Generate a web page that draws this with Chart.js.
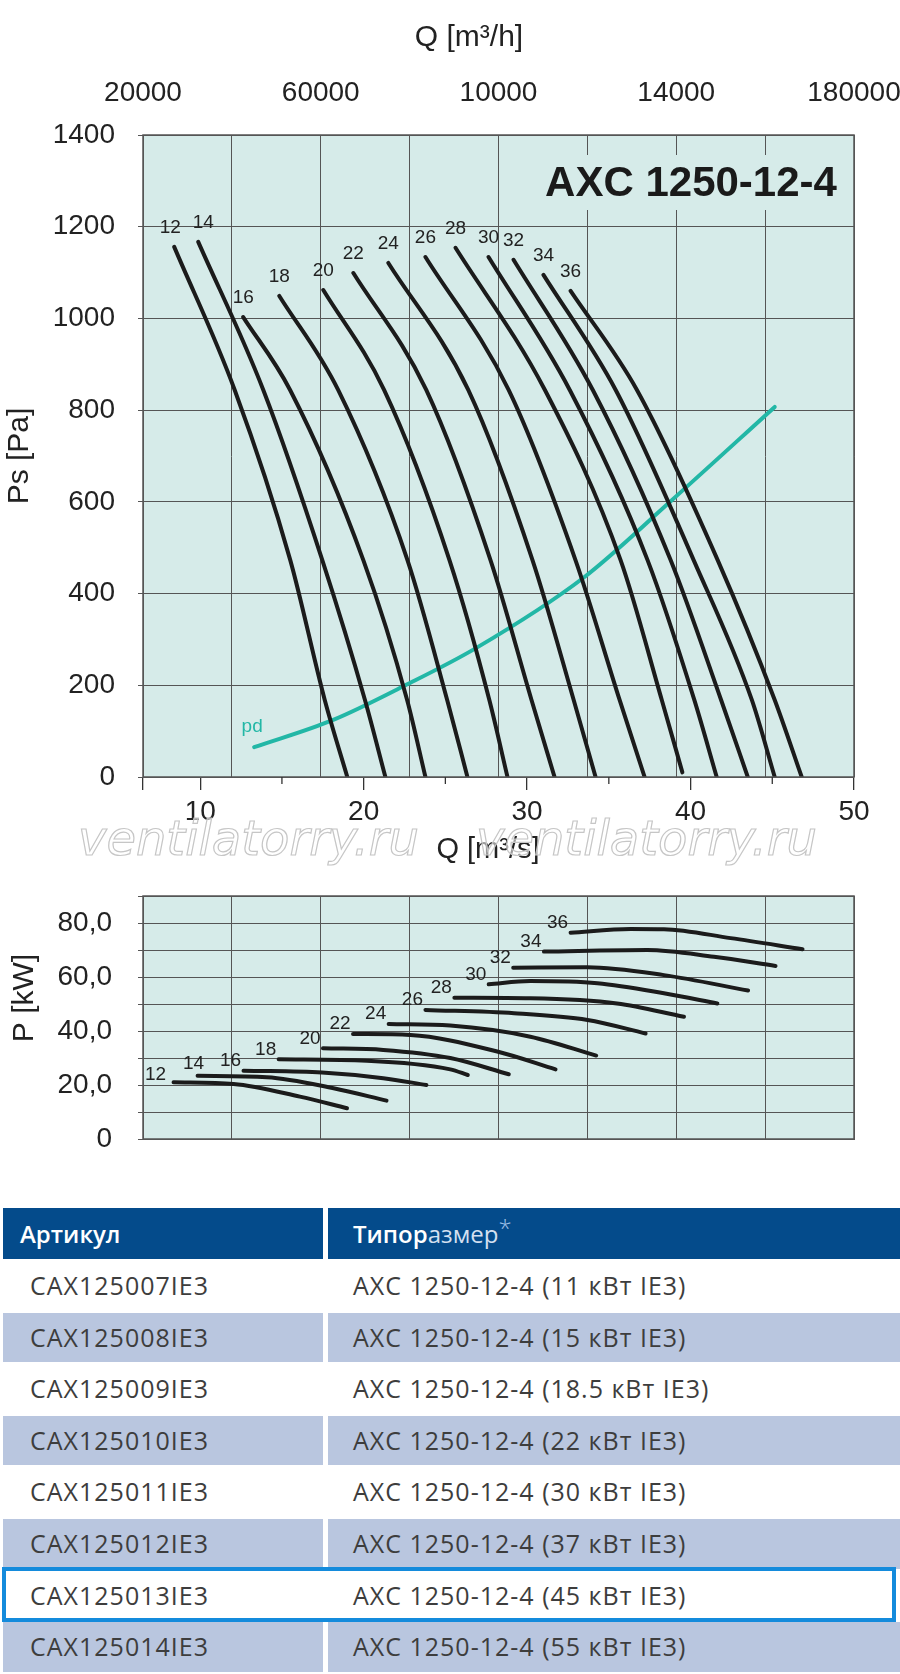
<!DOCTYPE html>
<html lang="ru">
<head>
<meta charset="utf-8">
<title>AXC 1250-12-4</title>
<script src="https://cdn.jsdelivr.net/npm/chart.js@4.4.1/dist/chart.umd.min.js"></script>
<style>
  html, body { margin: 0; padding: 0; background: #fff; }
  body { width: 900px; height: 1674px; position: relative; overflow: hidden; }
  canvas { position: absolute; left: 0; }
  #psChart { top: 0; width: 900px; height: 870px; }
  #pwChart { top: 870px; width: 900px; height: 300px; }
  .tbl { position: absolute; left: 3px; top: 1208px; width: 897px; display: grid;
         grid-template-columns: 320px 1fr; column-gap: 5px; row-gap: 2px;
         font-family: "Open Sans", sans-serif; font-size: 25px; color: #3d3d3d; }
  .tbl div { height: 49.6px; line-height: 49.6px; padding-left: 27px; white-space: nowrap; letter-spacing: 1px; }
  .tbl div.c2 { padding-left: 25px; }
  .tbl div.hd { background: #044b8b; color: #fff; font-weight: 600; font-size: 24px; letter-spacing: 0;
                height: 51px; line-height: 51px; padding-left: 17px; }
  .tbl div.hd.c2 { padding-left: 25px; }
  .tbl div.alt { background: #b9c6df; }
  .hd .thin { font-weight: 400; color: #d4e0f1; }
  .hd .star { font-weight: 300; color: #9dbfe6; vertical-align: top; line-height: 40px; }
  .pick { position: absolute; left: 2px; top: 1567px; width: 894px; height: 55px;
          border: 4px solid #148bdc; box-sizing: border-box; }
</style>
</head>
<body>
<canvas id="psChart" width="900" height="870"></canvas>
<canvas id="pwChart" width="900" height="300"></canvas>
<div class="tbl" id="tbl"></div>
<div class="pick"></div>
<script>
// fan curves, Q in m3/s
const speeds = ['12', '14', '16', '18', '20', '22', '24', '26', '28', '30', '32', '34', '36'];

// static pressure Ps [Pa]
const psFlow = [
  [8.41, 12.11, 15.51, 17.62, 19.0],
  [9.88, 13.86, 17.47, 20.08, 21.33],
  [12.63, 15.5, 19.98, 22.66, 23.78],
  [14.84, 18.44, 22.68, 25.11, 26.35],
  [17.53, 21.25, 25.25, 27.69, 28.8],
  [19.37, 23.83, 27.76, 30.27, 31.68],
  [21.51, 26.4, 30.33, 32.85, 34.19],
  [23.78, 28.87, 32.96, 35.66, 37.19],
  [25.62, 31.09, 35.72, 38.24, 39.5],
  [27.64, 32.61, 37.37, 40.23, 41.6],
  [29.17, 34.02, 38.78, 41.87, 43.5],
  [31.0, 35.42, 40.19, 43.75, 45.15],
  [32.66, 36.72, 41.66, 45.15, 46.8]
];
const psPress = [
  [1156, 844, 473, 168, 0],
  [1167, 844, 473, 168, 0],
  [1003, 844, 473, 168, 0],
  [1049, 844, 473, 168, 0],
  [1062, 844, 473, 168, 0],
  [1099, 844, 473, 168, 0],
  [1121, 844, 473, 168, 0],
  [1134, 844, 473, 168, 0],
  [1154, 844, 473, 168, 10],
  [1134, 844, 473, 168, 0],
  [1128, 844, 473, 168, 0],
  [1095, 844, 473, 168, 0],
  [1060, 844, 473, 168, 0]
];

// dynamic pressure pd
const pdFlow = [13.3, 18.1, 22.55, 26.87, 33.43, 38.8, 45.15];
const pdPress = [65, 124, 200, 281, 434, 602, 807];

// shaft power P [kW]
const pwFlow = [
  [8.37, 12.04, 16.1, 18.98],
  [9.84, 14.08, 18.16, 21.4],
  [12.65, 17.45, 21.2, 23.84],
  [14.8, 20.2, 25.3, 26.37],
  [17.51, 21.2, 25.3, 28.88],
  [19.35, 22.86, 28.17, 31.74],
  [21.53, 25.3, 30.2, 34.23],
  [23.78, 29.2, 33.7, 37.25],
  [25.55, 30.2, 35.5, 39.6],
  [27.65, 30.2, 34.3, 38.37, 41.64],
  [29.15, 33.68, 38.37, 43.52],
  [31.03, 37.35, 41.43, 45.2],
  [32.66, 36.33, 38.37, 42.45, 46.85]
];
const pwPower = [
  [21.0, 20.4, 15.7, 11.4],
  [23.4, 22.9, 18.8, 14.2],
  [25.3, 24.6, 22.5, 20.0],
  [29.5, 29.0, 25.8, 23.7],
  [33.6, 33.0, 30.0, 24.0],
  [38.9, 38.5, 32.4, 25.8],
  [42.6, 42.0, 37.9, 30.9],
  [47.8, 46.6, 44.1, 39.1],
  [52.3, 52.1, 50.2, 45.3],
  [57.3, 58.5, 57.7, 54.0, 50.2],
  [63.4, 63.6, 60.7, 55.0],
  [69.4, 70.0, 67.5, 64.1],
  [76.4, 77.8, 77.7, 74.4, 70.3]
];

// axis ticks as printed on the sheet
const secTicks = [10, 20, 30, 40, 50];
const hourTicks = [20000, 60000, 100000, 140000, 180000];
const hourTickText = ['20000', '60000', '10000', '14000', '180000'];
const powerTicks = [0, 20, 40, 60, 80];
const powerTickText = ['0', '20,0', '40,0', '60,0', '80,0'];

// table
const articles = ['CAX125007IE3', 'CAX125008IE3', 'CAX125009IE3', 'CAX125010IE3',
                  'CAX125011IE3', 'CAX125012IE3', 'CAX125013IE3', 'CAX125014IE3'];
const sizes = ['AXC 1250-12-4 (11 кВт IE3)', 'AXC 1250-12-4 (15 кВт IE3)', 'AXC 1250-12-4 (18.5 кВт IE3)',
               'AXC 1250-12-4 (22 кВт IE3)', 'AXC 1250-12-4 (30 кВт IE3)', 'AXC 1250-12-4 (37 кВт IE3)',
               'AXC 1250-12-4 (45 кВт IE3)', 'AXC 1250-12-4 (55 кВт IE3)'];

const PLOT_BG = '#d6ebe9';
const GRID = '#555';
const CURVE = '#1b1b1b';
const TEAL = '#22b7a6';
const FONT = '"Liberation Sans", Arial, sans-serif';

Chart.defaults.font.family = FONT;
Chart.defaults.font.size = 28;
Chart.defaults.color = '#222';

function pts(xs, ys) {
  return xs.map((x, i) => ({ x: x, y: ys[i] }));
}

// keeps the axis boxes at fixed size so the plot area sits where the sheet has it
function fixSize(size) {
  return function (scale) {
    if (scale.isHorizontal()) scale.height = size; else scale.width = size;
    scale.paddingLeft = scale.paddingRight = scale.paddingTop = scale.paddingBottom = 0;
  };
}

function curveSet(flow, vals) {
  return flow.map((f, i) => ({
    data: pts(f, vals[i]),
    tag: speeds[i],
    borderColor: CURVE,
    borderWidth: 4,
    borderCapStyle: 'round',
    pointRadius: 0,
    cubicInterpolationMode: 'monotone',
    fill: false
  }));
}

function makeDecor(cfg) {
  return {
    id: 'decor',
    beforeDraw(chart) {
      const { ctx, chartArea: a } = chart;
      ctx.save();
      ctx.fillStyle = PLOT_BG;
      ctx.fillRect(a.left, a.top, a.right - a.left, a.bottom - a.top);
      ctx.restore();
    },
    beforeDatasetsDraw(chart) {
      if (!cfg.title) return;
      const { ctx, chartArea: a } = chart;
      ctx.save();
      ctx.fillStyle = PLOT_BG;
      ctx.fillRect(a.right - 334, a.top + 20, 334, 55);
      ctx.fillStyle = '#1a1a1a';
      ctx.font = 'bold 42px ' + FONT;
      ctx.textAlign = 'center';
      ctx.textBaseline = 'middle';
      ctx.fillText(cfg.title, a.right - 163, a.top + 49);
      ctx.restore();
    },
    afterDraw(chart) {
      const { ctx, chartArea: a } = chart;
      ctx.save();
      // frame
      ctx.strokeStyle = GRID;
      ctx.lineWidth = 1.5;
      ctx.strokeRect(a.left, a.top, a.right - a.left, a.bottom - a.top);

      // short ticks halfway between the labelled ones
      if (cfg.minor) {
        const sx = chart.scales.x;
        ctx.strokeStyle = '#333';
        ctx.lineWidth = 1.3;
        secTicks.forEach(v => {
          if (v + 5 < sx.max) {
            const px = sx.getPixelForValue(v + 5);
            ctx.beginPath();
            ctx.moveTo(px, a.bottom);
            ctx.lineTo(px, a.bottom + 7);
            ctx.stroke();
          }
        });
      }

      // curve numbers at the start of each curve
      ctx.textAlign = 'center';
      ctx.textBaseline = 'middle';
      chart.data.datasets.forEach((ds, i) => {
        if (!ds.tag) return;
        const p = chart.getDatasetMeta(i).data[0];
        ctx.fillStyle = ds.tagColor || '#222';
        ctx.font = '19px ' + FONT;
        const dx = ds.tagDx !== undefined ? ds.tagDx : cfg.tagDx;
        const dy = ds.tagDy !== undefined ? ds.tagDy : cfg.tagDy;
        ctx.fillText(ds.tag, p.x + dx, p.y + dy);
      });

      // free axis captions
      (cfg.texts || []).forEach(t => {
        ctx.save();
        ctx.translate(t.x, t.y);
        if (t.rot) ctx.rotate(t.rot);
        ctx.fillStyle = '#222';
        ctx.font = t.size + 'px ' + FONT;
        ctx.fillText(t.text, 0, 0);
        ctx.restore();
      });

      // site watermark
      (cfg.marks || []).forEach(m => {
        ctx.font = 'italic 48px "DejaVu Sans", sans-serif';
        ctx.textAlign = 'left';
        ctx.textBaseline = 'alphabetic';
        ctx.fillStyle = 'rgba(255,255,255,0.55)';
        ctx.fillText('ventilatorry.ru', m.x, m.y);
        ctx.strokeStyle = '#c6c6c6';
        ctx.lineWidth = 1.2;
        ctx.strokeText('ventilatorry.ru', m.x, m.y);
      });
      ctx.restore();
    }
  };
}

// ---- pressure chart ----
const psSets = curveSet(psFlow, psPress);
psSets[0].tagDx = -4;
psSets[1].tagDx = 5;
psSets.push({
  data: pts(pdFlow, pdPress),
  tag: 'pd',
  tagColor: TEAL,
  tagDx: -2,
  tagDy: -20,
  borderColor: TEAL,
  borderWidth: 4,
  borderCapStyle: 'round',
  pointRadius: 0,
  cubicInterpolationMode: 'monotone',
  fill: false
});

new Chart(document.getElementById('psChart'), {
  type: 'line',
  data: { datasets: psSets },
  options: {
    responsive: false,
    animation: false,
    layout: { padding: { top: 0, right: 46, bottom: 0, left: 0 } },
    plugins: { legend: { display: false }, tooltip: { enabled: false } },
    scales: {
      x: {
        type: 'linear', position: 'bottom', min: 6.5, max: 50,
        afterBuildTicks: scale => {
          scale.ticks = [scale.min].concat(secTicks).map(v => ({ value: v }));
        },
        ticks: {
          padding: 5, autoSkip: false, maxRotation: 0,
          callback: v => (secTicks.includes(v) ? String(v) : '')
        },
        grid: { drawOnChartArea: false, tickLength: 13, color: '#333', lineWidth: 1.3 },
        border: { color: GRID },
        afterFit: fixSize(93)
      },
      x2: {
        type: 'linear', position: 'top', min: 20000, max: 180000,
        ticks: {
          stepSize: 20000, padding: 25, autoSkip: false, maxRotation: 0,
          callback: v => {
            const i = hourTicks.indexOf(v);
            return i < 0 ? '' : hourTickText[i];
          }
        },
        grid: { drawTicks: false, color: GRID, lineWidth: 1 },
        border: { color: GRID },
        afterFit: fixSize(135)
      },
      y: {
        min: 0, max: 1400,
        ticks: { stepSize: 200, padding: 23, callback: v => String(v) },
        grid: { tickLength: 5, color: GRID, lineWidth: 1 },
        border: { color: GRID },
        title: { display: true, text: 'Ps [Pa]', font: { size: 30 }, padding: { top: 2 } },
        afterFit: fixSize(143)
      }
    }
  },
  plugins: [makeDecor({
    title: 'AXC 1250-12-4',
    minor: true,
    tagDx: 0,
    tagDy: -19,
    texts: [
      { text: 'Q [m³/h]', x: 469, y: 38, size: 30 },
      { text: 'Q [m³/s]', x: 488, y: 850, size: 29 }
    ],
    marks: [{ x: 78, y: 855 }, { x: 476, y: 855 }]
  })]
});

// ---- power chart ----
const pwSets = curveSet(pwFlow, pwPower);
pwSets[0].tagDx = -18;
pwSets[0].tagDy = -8;
pwSets[1].tagDx = -4;
pwSets[1].tagDy = -12;

new Chart(document.getElementById('pwChart'), {
  type: 'line',
  data: { datasets: pwSets },
  options: {
    responsive: false,
    animation: false,
    layout: { padding: { top: 26, right: 46, bottom: 0, left: 0 } },
    plugins: { legend: { display: false }, tooltip: { enabled: false } },
    scales: {
      x: { type: 'linear', display: false, min: 6.5, max: 50 },
      xg: {
        type: 'linear', position: 'bottom', min: 20000, max: 180000,
        ticks: { display: false, stepSize: 20000 },
        grid: { drawTicks: false, color: GRID, lineWidth: 1 },
        border: { color: GRID },
        afterFit: fixSize(31)
      },
      y: {
        min: 0, max: 90,
        ticks: {
          stepSize: 10, padding: 26, autoSkip: false,
          callback: v => {
            const i = powerTicks.indexOf(v);
            return i < 0 ? '' : powerTickText[i];
          }
        },
        grid: { tickLength: 5, color: GRID, lineWidth: 1 },
        border: { color: GRID },
        afterFit: fixSize(143)
      }
    }
  },
  plugins: [makeDecor({
    minor: false,
    tagDx: -13,
    tagDy: -10,
    texts: [{ text: 'P [kW]', x: 25, y: 128, size: 30, rot: -Math.PI / 2 }]
  })]
});

// ---- table ----
const tbl = document.getElementById('tbl');
tbl.innerHTML =
  '<div class="hd">Артикул</div>' +
  '<div class="hd c2">Типор<span class="thin">азмер</span><span class="star">*</span></div>' +
  articles.map((a, i) => {
    const cls = i % 2 === 1 ? ' alt' : '';
    return '<div class="' + cls + '">' + a + '</div><div class="c2' + cls + '">' + sizes[i] + '</div>';
  }).join('');
</script>
</body>
</html>
